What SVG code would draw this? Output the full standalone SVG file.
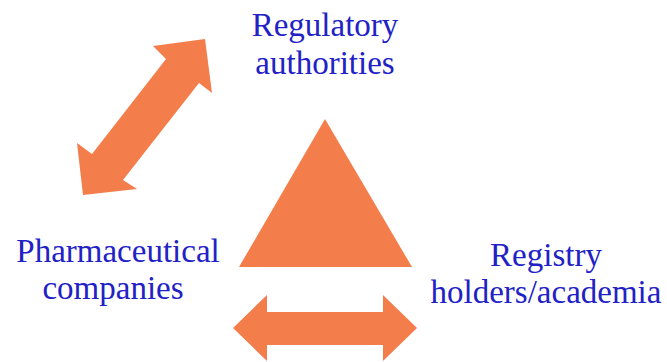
<svg xmlns="http://www.w3.org/2000/svg" width="667" height="362" viewBox="0 0 667 362">
<style>
.shape{fill:#F37E4B;stroke:none}
.lbl{font-family:'Liberation Serif','Times New Roman',Tinos,'DejaVu Serif',serif;font-size:33px;fill:#2121C6;text-anchor:middle}
</style>
<rect width="667" height="362" fill="#ffffff"/>
<g id="center-triangle">
<polygon class="shape" points="325,119 239,267 412,267"/>
</g>
<g id="node-regulatory">
<text class="lbl" x="325" y="36" font-family="Liberation Serif, serif">Regulatory</text>
<text class="lbl" x="325" y="74" font-family="Liberation Serif, serif">authorities</text>
</g>
<g id="node-pharma">
<text class="lbl" x="118" y="262">Pharmaceutical</text>
<text class="lbl" x="113" y="299">companies</text>
</g>
<g id="node-registry">
<text class="lbl" x="546" y="266">Registry</text>
<text class="lbl" x="546" y="303">holders/academia</text>
</g>
<g id="connectors">
<polygon class="shape" points="205,39 153,46 166,59 92,154 77,143 83,195 137,189 123,180 199,83 212,93"/>
<polygon class="shape" points="233,328 267,295 267,312 383,312 383,295 417,328 383,361 383,345 267,345 267,361"/>
</g>
</svg>
